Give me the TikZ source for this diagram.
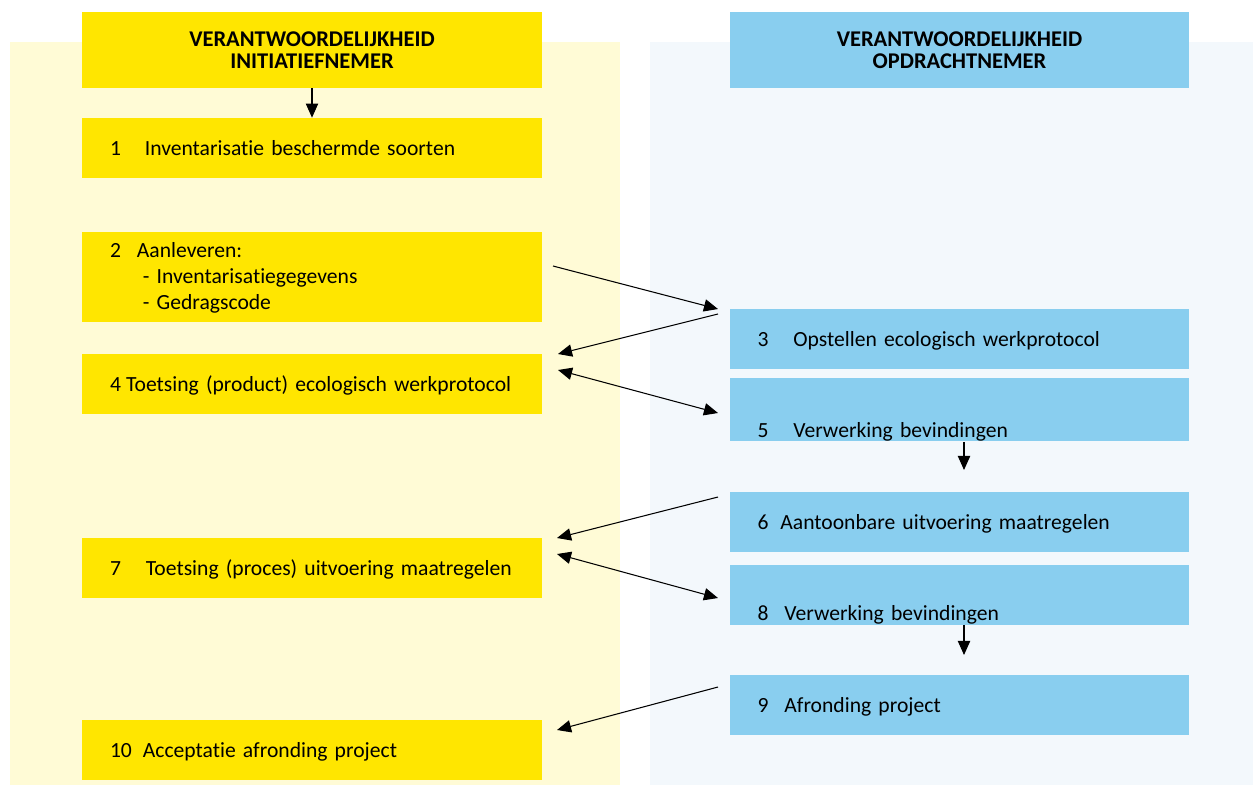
\documentclass[tikz,border=0pt]{standalone}
\usepackage{fontspec}
\setmainfont{Carlito}[Ligatures=NoCommon]
\usetikzlibrary{arrows.meta}

\definecolor{geel}{RGB}{255,230,0}
\definecolor{blauw}{RGB}{137,206,239}
\definecolor{geellicht}{RGB}{255,251,214}
\definecolor{blauwlicht}{RGB}{243,248,252}

% step number, set in a box of fixed width
\newcommand{\stapnr}[2]{\makebox[#1][l]{#2}}

\begin{document}
\begin{tikzpicture}[x=0.02cm, y=-0.02cm,
		font=\fontsize{12.3}{14.7}\selectfont,
		blok/.style={minimum width=9.2cm, minimum height=1.2cm, inner xsep=0.56cm, inner ysep=0pt,
			text width=8.08cm, align=left, text height=11.4pt, text depth=2.5pt},
		links/.style={blok, fill=geel},
		rechts/.style={blok, fill=blauw},
		kop/.style={minimum width=9.2cm, minimum height=1.52cm, align=center,
			font=\fontsize{12.8}{12.5}\selectfont\bfseries},
		pijl/.style={-{Triangle[length=8pt,width=7pt]}, line width=0.6pt},
		tweepijl/.style={{Triangle[length=8pt,width=7pt]}-{Triangle[length=8pt,width=7pt]}, line width=0.6pt}]
		\useasboundingbox (0,0) rectangle (1253,785);
		% background columns
		\fill[geellicht] (10,42) rectangle (620,785);
		\fill[blauwlicht] (650,42) rectangle (1253,785);
		% headers
		\node[kop, fill=geel] (kopI) at (312,50) {VERANTWOORDELIJKHEID\\INITIATIEFNEMER};
		\node[kop, fill=blauw] (kopO) at (959.5,50) {VERANTWOORDELIJKHEID\\OPDRACHTNEMER};
		% left column: initiatiefnemer
		\node[links] (b1) at (312,148) {\stapnr{19.8pt}{1}Inventarisatie beschermde soorten};
		\node[links, minimum height=1.8cm, text height=10pt, text depth=31.7pt] (b2) at (312,277)
			{\stapnr{15.3pt}{2}Aanleveren:\\
			\hspace*{18.7pt}- Inventarisatiegegevens\\
			\hspace*{18.7pt}- Gedragscode};
		\node[links] (b4) at (312,384) {\stapnr{9.1pt}{4}Toetsing (product) ecologisch werkprotocol};
		\node[links] (b7) at (312,568) {\stapnr{20.4pt}{7}Toetsing (proces) uitvoering maatregelen};
		\node[links] (b10) at (312,750) {\stapnr{18.7pt}{10}Acceptatie afronding project};
		% right column: opdrachtnemer
		\node[rechts] (b3) at (959.5,339) {\stapnr{20.4pt}{3}Opstellen ecologisch werkprotocol};
		\node[rechts, text height=34.4pt, text depth=2pt] (b5) at (959.5,409.5) {\stapnr{20.4pt}{5}Verwerking bevindingen};
		\node[rechts] (b6) at (959.5,522) {\stapnr{13pt}{6}Aantoonbare uitvoering maatregelen};
		\node[rechts, text height=32pt, text depth=2pt] (b8) at (959.5,594.5) {\stapnr{15.3pt}{8}Verwerking bevindingen};
		\node[rechts] (b9) at (959.5,704.5) {\stapnr{15.3pt}{9}Afronding project};
		% free ends of the connectors
		\coordinate (a2) at (553,266);  \coordinate (a3) at (718,309);
		\coordinate (c3) at (718,314);  \coordinate (c4) at (558,354);
		\coordinate (d4) at (558,370);  \coordinate (d5) at (718,413);
		\coordinate (e6) at (964,470);
		\coordinate (f6) at (718,497);  \coordinate (f7) at (557,538);
		\coordinate (g7) at (557,554);  \coordinate (g8) at (718,598);
		\coordinate (h9) at (964,655);
		\coordinate (i9) at (718,687);  \coordinate (i10) at (557,730);
		% connectors
		\draw[pijl] (kopI.south) -- (b1.north);
		\draw[pijl] (a2) -- (a3);
		\draw[pijl] (c3) -- (c4);
		\draw[tweepijl] (d4) -- (d5);
		\draw[pijl] (b5.south -| e6) -- (e6);
		\draw[pijl] (f6) -- (f7);
		\draw[tweepijl] (g7) -- (g8);
		\draw[pijl] (b8.south -| h9) -- (h9);
		\draw[pijl] (i9) -- (i10);
	\end{tikzpicture}
\end{document}
